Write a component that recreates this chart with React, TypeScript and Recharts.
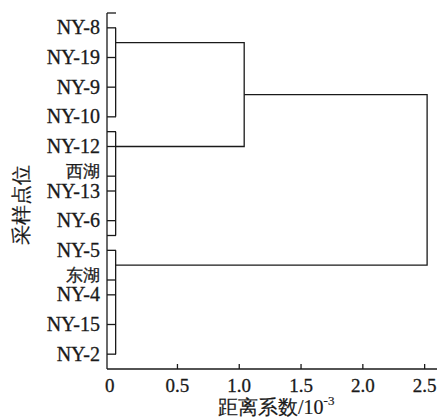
import React from 'react';
import { ScatterChart, Scatter, XAxis, YAxis } from 'recharts';

// leaf samples and their row positions on the y scale (row 0 = top of axis)
const leafLabels = ['NY-8', 'NY-19', 'NY-9', 'NY-10', 'NY-12', 'NY-13', 'NY-6', 'NY-5', 'NY-4', 'NY-15', 'NY-2'];
const leafRows = [1, 3, 5, 7, 9, 12, 14, 16, 19, 21, 23];
const groupLabels = ['西湖', '东湖'];
const groupRows = [11, 18];
const bracketEndRows = [0, 8, 15];

// leaf clusters joined at distance 0
const clusterSpans: [number, number][] = [[1, 7], [8, 15], [16, 23]];
// merges: [row a, row b, distance, from-distance a, from-distance b]
const merges: [number, number, number, number, number][] = [
  [2, 9, 1.04, 0, 0],
  [5.5, 17, 2.52, 1.04, 0],
];

const xTicks = [0, 0.5, 1.0, 1.5, 2.0, 2.5];

const INK = '#1a1a1a';
const SERIF = "'Liberation Serif', 'Times New Roman', serif";

const rowLabel = new Map<number, string>();
leafRows.forEach((r, i) => rowLabel.set(r, leafLabels[i]));
groupRows.forEach((r, i) => rowLabel.set(r, groupLabels[i]));
const yTicks = [...leafRows, ...groupRows, ...bracketEndRows].sort((a, b) => a - b);

const bracketSeries = clusterSpans.map(([a, b]) => [
  { x: 0, y: a },
  { x: 0, y: b },
]);
const mergeSeries = merges.map(([a, b, d, da, db]) => [
  { x: da, y: a },
  { x: d, y: a },
  { x: d, y: b },
  { x: db, y: b },
]);

const textStyle = (size: number) => ({ fontFamily: SERIF, fontSize: size });

const YTick = (props: any) => {
  const { x, y, payload } = props;
  const label = rowLabel.get(payload.value) || '';
  const isGroup = groupRows.includes(payload.value);
  return (
    <g>
      <line x1={x} y1={y} x2={x + 9} y2={y} stroke={INK} strokeWidth={1.3} />
      {label && (
        <text
          x={x - 7}
          y={isGroup ? y + 0.5 : y + 6.6}
          textAnchor="end"
          fill={INK}
          stroke={INK}
          strokeWidth={0.3}
          style={textStyle(isGroup ? 17 : 20)}
        >
          {label}
        </text>
      )}
    </g>
  );
};

const XTick = (props: any) => {
  const { x, y, payload } = props;
  const isZero = payload.value === 0;
  return (
    <g>
      {!isZero && <line x1={x} y1={y} x2={x} y2={y - 5} stroke={INK} strokeWidth={1.3} />}
      <text
        x={isZero ? x - 6 : x}
        y={y + 23}
        textAnchor="middle"
        fill={INK}
        stroke={INK}
        strokeWidth={0.3}
        style={textStyle(19)}
      >
        {isZero ? '0' : payload.value.toFixed(1)}
      </text>
    </g>
  );
};

const XTitle = (props: any) => {
  const { viewBox } = props;
  return (
    <text x={viewBox.x + 111} y={viewBox.y + 45} fill={INK} stroke={INK} strokeWidth={0.2} style={textStyle(20)}>
      距离系数/10
      <tspan dy={-9} style={{ fontSize: 13 }}>-3</tspan>
    </text>
  );
};

const YTitle = (props: any) => {
  const { viewBox } = props;
  const cx = viewBox.x + 21;
  const cy = viewBox.y + viewBox.height / 2 + 14;
  return (
    <text
      x={cx}
      y={cy}
      transform={`rotate(-90 ${cx} ${cy})`}
      textAnchor="middle"
      dominantBaseline="central"
      fill={INK}
      stroke={INK}
      strokeWidth={0.2}
      style={textStyle(20)}
    >
      采样点位
    </text>
  );
};

const noDot = () => <g />;

export default function App() {
  return (
    <div style={{ position: 'absolute', left: 0, top: 0, background: '#fff' }}>
      <ScatterChart width={438} height={418} margin={{ top: 13, right: 1, left: 0, bottom: 0 }}>
        <XAxis
          type="number"
          dataKey="x"
          domain={[-0.07, 2.6]}
          allowDataOverflow
          ticks={xTicks}
          interval={0}
          height={49}
          tickSize={0}
          tickMargin={0}
          tickLine={false}
          axisLine={{ stroke: INK, strokeWidth: 1.3 }}
          tick={<XTick />}
          label={{ content: <XTitle /> }}
        />
        <YAxis
          type="number"
          dataKey="y"
          domain={[0, 24]}
          reversed
          allowDataOverflow
          ticks={yTicks}
          interval={0}
          width={107}
          tickSize={0}
          tickMargin={0}
          tickLine={false}
          axisLine={{ stroke: INK, strokeWidth: 1.3 }}
          tick={<YTick />}
          label={{ content: <YTitle /> }}
        />
        {bracketSeries.map((d, i) => (
          <Scatter
            key={`b${i}`}
            data={d}
            line={{ stroke: INK, strokeWidth: 1.3 }}
            shape={noDot}
            isAnimationActive={false}
          />
        ))}
        {mergeSeries.map((d, i) => (
          <Scatter
            key={`m${i}`}
            data={d}
            line={{ stroke: INK, strokeWidth: 1.3 }}
            shape={noDot}
            isAnimationActive={false}
          />
        ))}
      </ScatterChart>
    </div>
  );
}
